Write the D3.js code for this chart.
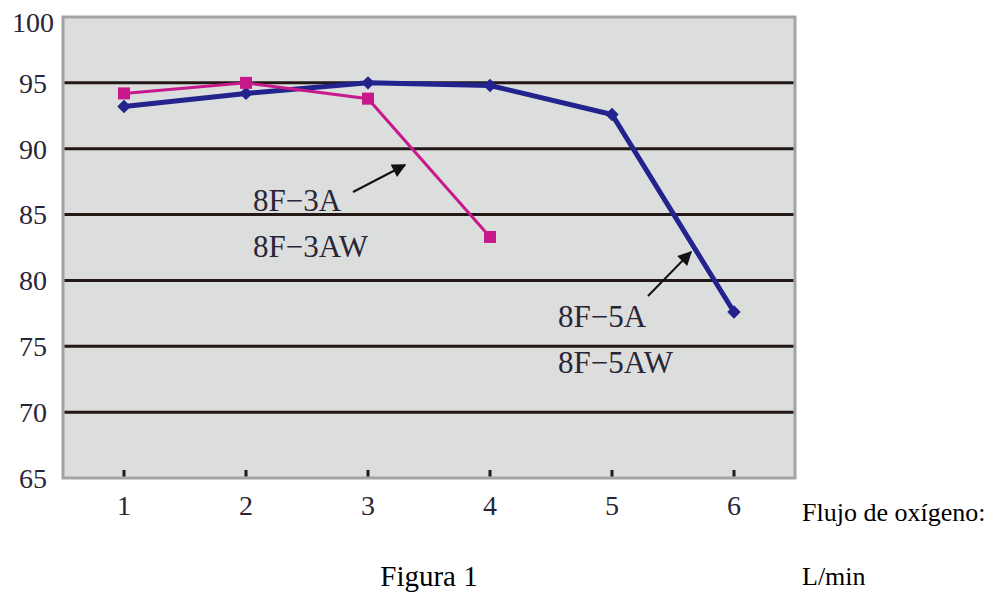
<!DOCTYPE html>
<html>
<head>
<meta charset="utf-8">
<script src="https://cdn.jsdelivr.net/npm/d3@7"></script>
<style>
  body { margin: 0; background: #fff; }
  text { font-family: 'Liberation Serif', 'Times New Roman', serif; }
</style>
</head>
<body>
<div id="container"></div>
<script>
/* oxygen flow categories (L/min) */
var flows = [1, 2, 3, 4, 5, 6]

/* concentration (%) */
var series5A = [93.2, 94.2, 95.0, 94.8, 92.6, 77.6]
var series3A = [94.2, 95.0, 93.8, 83.3]

var yTicks = [65, 70, 75, 80, 85, 90, 95, 100]
var gridValues = [70, 75, 80, 85, 90, 95]

var width = 993
var height = 593

var plot = { left: 63, right: 795, top: 17, bottom: 478 }

var svg = d3.select('#container').append('svg')
  .attr('width', width)
  .attr('height', height)

var x = d3.scaleBand()
  .domain(flows)
  .range([plot.left, plot.right])

var y = d3.scaleLinear()
  .domain([65, 100])
  .range([plot.bottom, plot.top])

function cx (d, i) { return x(flows[i]) + x.bandwidth() / 2 }

/* plot background + frame */
svg.append('rect')
  .attr('x', plot.left)
  .attr('y', plot.top)
  .attr('width', plot.right - plot.left)
  .attr('height', plot.bottom - plot.top)
  .style('fill', '#dcdddd')
  .style('stroke', '#a3a3a3')
  .style('stroke-width', 3)

svg.append('g')
  .selectAll('line')
  .data(gridValues)
  .enter().append('line')
  .attr('x1', plot.left + 1.5)
  .attr('x2', plot.right - 1.5)
  .attr('y1', function (d) { return y(d) })
  .attr('y2', function (d) { return y(d) })
  .style('stroke', '#231815')
  .style('stroke-width', 3)

/* inward ticks on the bottom edge */
svg.append('g')
  .selectAll('line')
  .data(flows)
  .enter().append('line')
  .attr('x1', function (d) { return x(d) + x.bandwidth() / 2 })
  .attr('x2', function (d) { return x(d) + x.bandwidth() / 2 })
  .attr('y1', plot.bottom - 1.5)
  .attr('y2', plot.bottom - 8)
  .style('stroke', '#231815')
  .style('stroke-width', 3)

svg.append('g')
  .selectAll('text')
  .data(yTicks)
  .enter().append('text')
  .attr('x', 33)
  .attr('y', function (d) { return d === 100 ? y(d) + 5 : y(d) })
  .attr('dy', '0.35em')
  .attr('text-anchor', 'middle')
  .style('font-size', '28px')
  .style('fill', '#2a2536')
  .text(function (d) { return d })

svg.append('g')
  .selectAll('text')
  .data(flows)
  .enter().append('text')
  .attr('x', function (d) { return x(d) + x.bandwidth() / 2 })
  .attr('y', 505)
  .attr('dy', '0.35em')
  .attr('text-anchor', 'middle')
  .style('font-size', '28px')
  .style('fill', '#2a2536')
  .text(function (d) { return d })

var line = d3.line()
  .x(cx)
  .y(function (d) { return y(d) })

/* 8F-5A series */
svg.append('path')
  .datum(series5A)
  .attr('d', line)
  .style('fill', 'none')
  .style('stroke', '#22238c')
  .style('stroke-width', 5)

svg.append('g')
  .selectAll('path')
  .data(series5A)
  .enter().append('path')
  .attr('d', d3.symbol().type(d3.symbolSquare).size(90))
  .attr('transform', function (d, i) { return 'translate(' + cx(d, i) + ',' + y(d) + ') rotate(45)' })
  .style('fill', '#22238c')

/* 8F-3A series */
svg.append('path')
  .datum(series3A)
  .attr('d', line)
  .style('fill', 'none')
  .style('stroke', '#c8198c')
  .style('stroke-width', 3)

svg.append('g')
  .selectAll('rect')
  .data(series3A)
  .enter().append('rect')
  .attr('x', function (d, i) { return cx(d, i) - 6 })
  .attr('y', function (d) { return y(d) - 6 })
  .attr('width', 12)
  .attr('height', 12)
  .style('fill', '#c8198c')

/* annotations with arrows */
svg.append('defs').append('marker')
  .attr('id', 'head')
  .attr('viewBox', '0 0 10 10')
  .attr('refX', 9)
  .attr('refY', 5)
  .attr('markerWidth', 18)
  .attr('markerHeight', 14)
  .attr('markerUnits', 'userSpaceOnUse')
  .attr('orient', 'auto')
  .append('path')
  .attr('d', 'M0,0L10,5L0,10z')
  .style('fill', '#111')

var notes = [
  { lines: ['8F\u22123A', '8F\u22123AW'], x: 253, y: 211, from: [353, 192], to: [405, 165] },
  { lines: ['8F\u22125A', '8F\u22125AW'], x: 558, y: 327, from: [648, 296], to: [691, 252] }
]

notes.forEach(function (n) {
  svg.append('line')
    .attr('x1', n.from[0]).attr('y1', n.from[1])
    .attr('x2', n.to[0]).attr('y2', n.to[1])
    .style('stroke', '#111')
    .style('stroke-width', 2)
    .attr('marker-end', 'url(#head)')
  n.lines.forEach(function (t, k) {
    svg.append('text')
      .attr('x', n.x)
      .attr('y', n.y + k * 46)
      .style('font-size', '31px')
      .style('fill', '#2a2536')
      .text(t)
  })
})

svg.append('text')
  .attr('x', 429)
  .attr('y', 586)
  .attr('text-anchor', 'middle')
  .style('font-size', '29px')
  .style('fill', '#000')
  .text('Figura 1')

svg.append('text')
  .attr('x', 802)
  .attr('y', 521)
  .style('font-size', '26px')
  .style('fill', '#000')
  .text('Flujo de oxígeno:')

svg.append('text')
  .attr('x', 802)
  .attr('y', 585)
  .style('font-size', '26px')
  .style('fill', '#000')
  .text('L/min')
</script>
</body>
</html>
